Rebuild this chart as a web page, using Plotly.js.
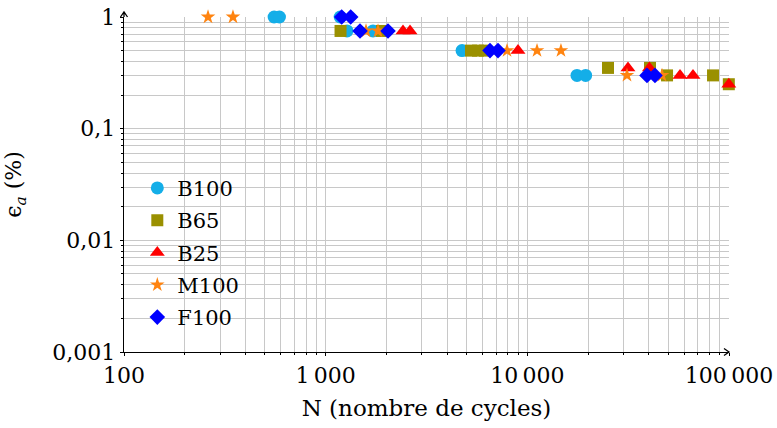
<!DOCTYPE html>
<html>
<head>
<meta charset="utf-8">
<script src="https://cdn.plot.ly/plotly-3.0.1.min.js"></script>
<style>html,body{margin:0;padding:0;background:#fff;}#chart{width:777px;height:428px;}</style>
</head>
<body>
<div id="chart"></div>
<script>
// Data (N = cycles, eps = strain amplitude in %)
const b100N   = [555, 590, 1180, 1276, 1717, 4745, 17630, 19460];
const b100Eps = [1, 1, 1, 0.75, 0.75, 0.5, 0.3, 0.3];
const b65N    = [1185, 1902, 5256, 5692, 6166, 25120, 40570, 49290, 83330, 99800];
const b65Eps  = [0.75, 0.75, 0.5, 0.5, 0.5, 0.35, 0.35, 0.3, 0.3, 0.25];
const b25N    = [2418, 2620, 8990, 31560, 40300, 57150, 66300, 99800];
const b25Eps  = [0.75, 0.75, 0.5, 0.35, 0.35, 0.3, 0.3, 0.25];
const m100N   = [261, 347, 1585, 1818, 7930, 11170, 14680, 31200, 46540];
const m100Eps = [1, 1, 0.75, 0.75, 0.5, 0.5, 0.5, 0.3, 0.3];
const f100N   = [1201, 1331, 1480, 2038, 6530, 7152, 39200, 42950];
const f100Eps = [1, 1, 0.75, 0.75, 0.5, 0.5, 0.3, 0.3];

const xTickVals = [100, 1000, 10000, 100000];
const xTickText = ['100', '1\u2009000', '10\u2009000', '100\u2009000'];
const yTickVals = [0.001, 0.01, 0.1, 1];
const yTickText = ['0,001', '0,01', '0,1', '1'];

function minorVals(lo, hi) {
  const v = [];
  for (let d = lo; d < hi; d++) for (let k = 2; k <= 9; k++) v.push(k * Math.pow(10, d));
  return v;
}

const FONT = 'DejaVu Serif, serif';
function tr(name, x, y, symbol, color, size, gi) {
  return {type: 'scatter', mode: 'markers', name: name, x: x, y: y,
    legendgroup: 'g' + gi, cliponaxis: false,
    marker: {symbol: symbol, color: color, size: size, line: {width: 0}}};
}
const data = [
  tr('B100', b100N, b100Eps, 'circle', '#14aee8', 13, 1),
  tr('B65', b65N, b65Eps, 'square', '#9a9000', 12, 2),
  tr('B25', b25N, b25Eps, 'triangle-up', '#ff0000', 13, 3),
  tr('M100', m100N, m100Eps, 'star', '#ff8410', 11, 4),
  tr('F100', f100N, f100Eps, 'diamond', '#0000ff', 12, 5)
];

const gridC = '#c8c8c8';
const layout = {
  width: 777, height: 428,
  margin: {l: 124, r: 48, t: 17, b: 76},
  paper_bgcolor: '#fff', plot_bgcolor: '#fff',
  font: {family: FONT, size: 21, color: '#000'},
  showlegend: true,
  legend: {x: 0.022, y: 0.55, xanchor: 'left', yanchor: 'top', bgcolor: 'rgba(255,255,255,0)',
    font: {family: FONT, size: 21}, traceorder: 'grouped', tracegroupgap: 2, itemwidth: 30},
  xaxis: {type: 'log', range: [2, 5], tickmode: 'array', tickvals: xTickVals, ticktext: xTickText,
    showgrid: true, gridcolor: gridC, gridwidth: 1, zeroline: false,
    showline: true, linecolor: '#000', linewidth: 1.3, ticks: 'outside', ticklen: 3, tickcolor: '#000',
    minor: {tickmode: 'array', tickvals: minorVals(2, 5), showgrid: true, gridcolor: gridC, gridwidth: 1,
      ticks: 'outside', ticklen: 2, tickcolor: '#000'},
    title: {text: 'N (nombre de cycles)', font: {family: FONT, size: 23}, standoff: 13},
    tickfont: {family: FONT, size: 22}},
  yaxis: {type: 'log', range: [-3, 0], tickmode: 'array', tickvals: yTickVals, ticktext: yTickText,
    showgrid: true, gridcolor: gridC, gridwidth: 1, zeroline: false,
    showline: true, linecolor: '#000', linewidth: 1.3, ticks: 'outside', ticklen: 3, tickcolor: '#000',
    minor: {tickmode: 'array', tickvals: minorVals(-3, 0), showgrid: true, gridcolor: gridC, gridwidth: 1,
      ticks: 'outside', ticklen: 2, tickcolor: '#000'},
    title: {text: '\u03f5<sub><i>a</i></sub> (%)', font: {family: FONT, size: 22}, standoff: 24},
    tickfont: {family: FONT, size: 22}},
  shapes: [
    {type: 'path', xref: 'paper', yref: 'paper', xsizemode: 'pixel', ysizemode: 'pixel',
      xanchor: 0, yanchor: 1, path: 'M0,0 L0,5 M-3.5,0 L0,5 L3.5,0', line: {color: '#000', width: 1.3}},
    {type: 'path', xref: 'paper', yref: 'paper', xsizemode: 'pixel', ysizemode: 'pixel',
      xanchor: 1, yanchor: 0, path: 'M0,0 L0,0 M-5,3.5 L0,0 L-5,-3.5', line: {color: '#000', width: 1.3}}
  ]
};
Plotly.newPlot('chart', data, layout, {displayModeBar: false, staticPlot: true});
</script>
</body>
</html>
